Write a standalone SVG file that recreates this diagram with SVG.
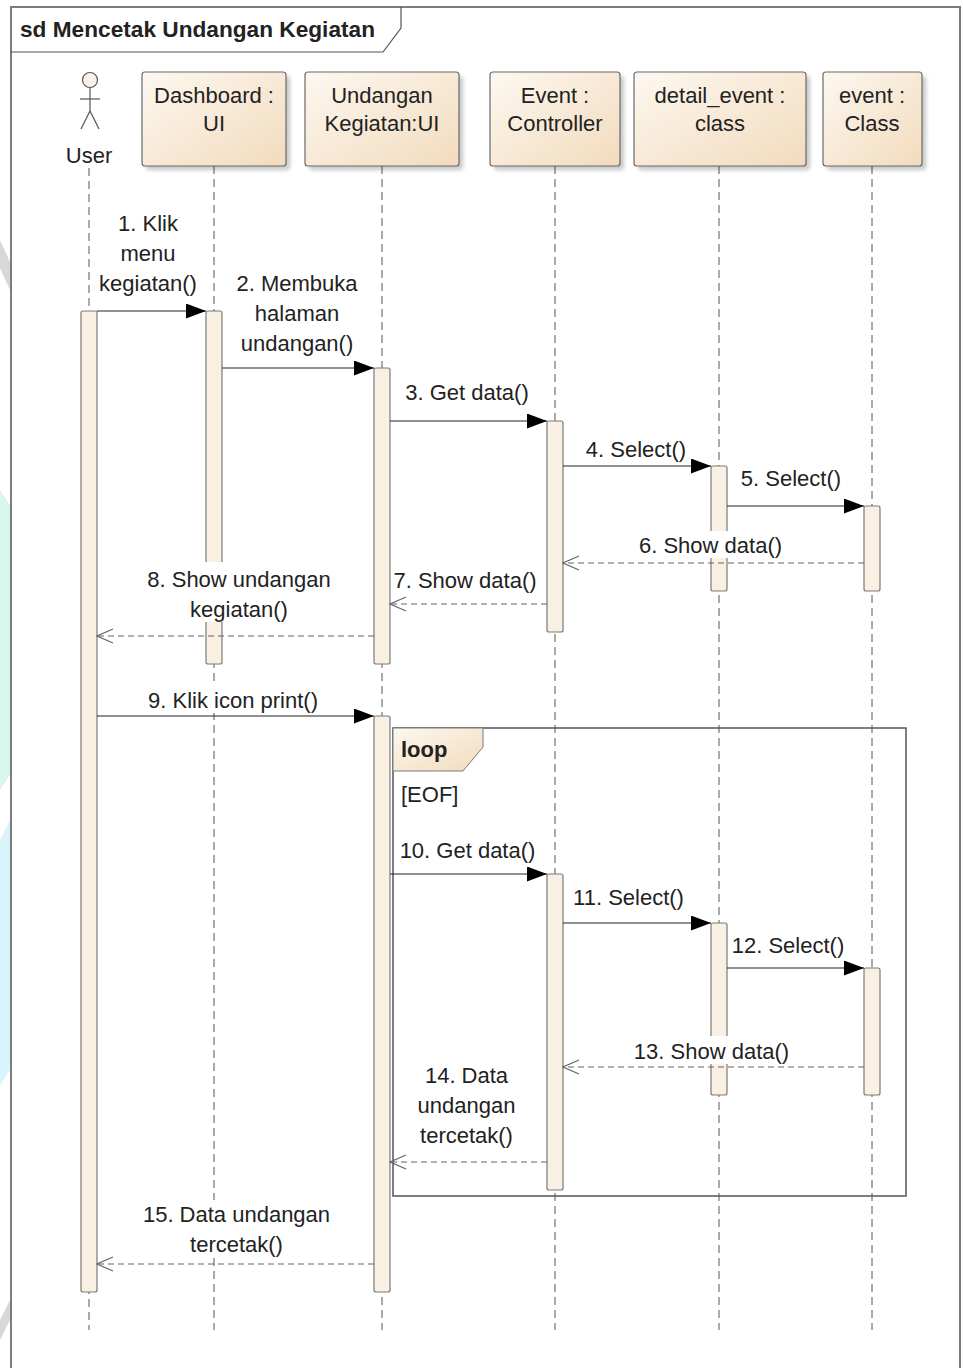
<svg xmlns="http://www.w3.org/2000/svg" width="963" height="1368" viewBox="0 0 963 1368">
<style>
.t{font-family:"Liberation Sans",Arial,sans-serif;font-size:22px;fill:#222}
.c{text-anchor:middle}
.b{font-weight:bold}
.life{stroke:#555;stroke-width:1;stroke-dasharray:8 5;fill:none}
.bar{fill:#f9efe2;stroke:#7a7a7a;stroke-width:1.2}
.head{fill:url(#g);stroke:#6a6a6a;stroke-width:1.2}
.shadow{fill:#000;opacity:0.22;filter:url(#blur)}
.msg{stroke:#222;stroke-width:1.2;fill:none;marker-end:url(#filled)}
.ret{stroke:#666;stroke-width:1.2;stroke-dasharray:6 4;fill:none;marker-end:url(#open)}
.bg{fill:#fff}
</style>
<defs>
<linearGradient id="g" x1="0" y1="0" x2="1" y2="1">
<stop offset="0" stop-color="#fdf8f0"/>
<stop offset="1" stop-color="#f2dbbd"/>
</linearGradient>
<filter id="blur" x="-10%" y="-10%" width="120%" height="120%"><feGaussianBlur stdDeviation="2"/></filter>
<marker id="filled" markerUnits="userSpaceOnUse" markerWidth="20" markerHeight="15" refX="20" refY="7.5" orient="auto">
<path d="M0,0 L20,7.5 L0,15 Z" fill="#000"/>
</marker>
<marker id="open" markerUnits="userSpaceOnUse" markerWidth="18" markerHeight="16" refX="17" refY="8" orient="auto">
<path d="M1,1 L17,8 L1,15" fill="none" stroke="#666" stroke-width="1.2" stroke-dasharray="none"/>
</marker>
</defs>
<rect width="963" height="1368" fill="#fff"/>
<!-- watermark edges -->
<g id="watermark" opacity="0.9">
<path d="M0,240 L10,262 L10,290 L0,268 Z" fill="#d4d4d4"/>
<path d="M0,490 L10,505 L10,775 L0,790 Z" fill="#d6f6ea"/>
<path d="M0,840 L10,820 L10,1070 L0,1085 Z" fill="#d5f3fb"/>
<path d="M0,1320 L10,1300 L10,1320 L0,1340 Z" fill="#d4d4d4"/>
</g>
<!-- frame -->
<g id="frame">
<path d="M11,1370 L11,7 L960,7 L960,1370" fill="none" stroke="#7c7c7c" stroke-width="2"/>
<path d="M11,52 L383,52 L401,28 L401,7" fill="none" stroke="#555" stroke-width="1.2"/>
<text class="t b" x="20" y="37" textLength="355" lengthAdjust="spacingAndGlyphs">sd Mencetak Undangan Kegiatan</text>
</g>
<!-- actor User -->
<g id="user">
<line class="life" x1="89" y1="168" x2="89" y2="1330"/>
<circle cx="90" cy="80" r="7.5" fill="#fbf3e8" stroke="#555" stroke-width="1.2"/>
<line x1="90" y1="88" x2="90" y2="111" stroke="#555" stroke-width="1.2"/>
<line x1="80" y1="99" x2="100" y2="99" stroke="#555" stroke-width="1.2"/>
<line x1="90" y1="111" x2="81" y2="129" stroke="#555" stroke-width="1.2"/>
<line x1="90" y1="111" x2="99" y2="129" stroke="#555" stroke-width="1.2"/>
<text class="t c" x="89" y="163">User</text>
<rect class="bar" x="81" y="311" width="16" height="981" rx="2"/>
</g>
<!-- Dashboard -->
<g id="dashboard">
<line class="life" x1="214" y1="166" x2="214" y2="1330"/>
<rect class="shadow" x="146" y="76" width="144" height="94" rx="3"/>
<rect class="head" x="142" y="72" width="144" height="94" rx="3"/>
<text class="t c" x="214" y="103">Dashboard :</text>
<text class="t c" x="214" y="131">UI</text>
<rect class="bar" x="206" y="311" width="16" height="353" rx="2"/>
</g>
<!-- Undangan Kegiatan -->
<g id="undangan">
<line class="life" x1="382" y1="166" x2="382" y2="1330"/>
<rect class="shadow" x="309" y="76" width="154" height="94" rx="3"/>
<rect class="head" x="305" y="72" width="154" height="94" rx="3"/>
<text class="t c" x="382" y="103">Undangan</text>
<text class="t c" x="382" y="131">Kegiatan:UI</text>
<rect class="bar" x="374" y="368" width="16" height="296" rx="2"/>
<rect class="bar" x="374" y="716" width="16" height="576" rx="2"/>
</g>
<!-- Event Controller -->
<g id="event-controller">
<line class="life" x1="555" y1="166" x2="555" y2="1330"/>
<rect class="shadow" x="494" y="76" width="130" height="94" rx="3"/>
<rect class="head" x="490" y="72" width="130" height="94" rx="3"/>
<text class="t c" x="555" y="103">Event :</text>
<text class="t c" x="555" y="131">Controller</text>
<rect class="bar" x="547" y="421" width="16" height="211" rx="2"/>
<rect class="bar" x="547" y="874" width="16" height="316" rx="2"/>
</g>
<!-- detail_event class -->
<g id="detail-event">
<line class="life" x1="719" y1="166" x2="719" y2="1330"/>
<rect class="shadow" x="638" y="76" width="172" height="94" rx="3"/>
<rect class="head" x="634" y="72" width="172" height="94" rx="3"/>
<text class="t c" x="720" y="103">detail_event :</text>
<text class="t c" x="720" y="131">class</text>
<rect class="bar" x="711" y="466" width="16" height="125" rx="2"/>
<rect class="bar" x="711" y="923" width="16" height="172" rx="2"/>
</g>
<!-- event Class -->
<g id="event-class">
<line class="life" x1="872" y1="166" x2="872" y2="1330"/>
<rect class="shadow" x="827" y="76" width="99" height="94" rx="3"/>
<rect class="head" x="823" y="72" width="99" height="94" rx="3"/>
<text class="t c" x="872" y="103">event :</text>
<text class="t c" x="872" y="131">Class</text>
<rect class="bar" x="864" y="506" width="16" height="85" rx="2"/>
<rect class="bar" x="864" y="968" width="16" height="127" rx="2"/>
</g>
<!-- loop fragment -->
<g id="loop">
<rect x="393" y="728" width="513" height="468" fill="none" stroke="#555" stroke-width="1.5"/>
<path d="M393,728 L483,728 L483,747 L463,771 L393,771 Z" fill="url(#g)" stroke="#7a7a7a" stroke-width="1"/>
<text class="t b" x="401" y="757">loop</text>
<text class="t" x="401" y="802">[EOF]</text>
</g>
<!-- connectors -->
<g id="connectors">
<rect class="bg" x="98" y="209" width="101" height="87"/>
<text class="t c" x="148" y="231">1. Klik</text>
<text class="t c" x="148" y="261">menu</text>
<text class="t c" x="148" y="291">kegiatan()</text>
<line class="msg" x1="97" y1="311" x2="206" y2="311"/>

<rect class="bg" x="233" y="269" width="128" height="87"/>
<text class="t c" x="297" y="291">2. Membuka</text>
<text class="t c" x="297" y="321">halaman</text>
<text class="t c" x="297" y="351">undangan()</text>
<line class="msg" x1="222" y1="368" x2="374" y2="368"/>

<rect class="bg" x="402" y="378" width="130" height="27"/>
<text class="t c" x="467" y="400">3. Get data()</text>
<line class="msg" x1="390" y1="421" x2="547" y2="421"/>

<rect class="bg" x="583" y="435" width="106" height="27"/>
<text class="t c" x="636" y="457">4. Select()</text>
<line class="msg" x1="563" y1="466" x2="711" y2="466"/>

<rect class="bg" x="738" y="464" width="106" height="27"/>
<text class="t c" x="791" y="486">5. Select()</text>
<line class="msg" x1="727" y1="506" x2="864" y2="506"/>

<rect class="bg" x="636" y="531" width="149" height="27"/>
<text class="t c" x="710.5" y="553">6. Show data()</text>
<line class="ret" x1="864" y1="563" x2="563" y2="563"/>

<rect class="bg" x="391" y="566" width="149" height="27"/>
<text class="t c" x="465" y="588">7. Show data()</text>
<line class="ret" x1="547" y1="604" x2="390" y2="604"/>

<rect class="bg" x="143" y="562" width="193" height="60"/>
<text class="t c" x="239" y="587">8. Show undangan</text>
<text class="t c" x="239" y="617">kegiatan()</text>
<line class="ret" x1="374" y1="636" x2="97" y2="636"/>

<rect class="bg" x="144" y="686" width="178" height="27"/>
<text class="t c" x="233" y="708">9. Klik icon print()</text>
<line class="msg" x1="97" y1="716" x2="374" y2="716"/>

<rect class="bg" x="396" y="836" width="143" height="27"/>
<text class="t c" x="467.5" y="858">10. Get data()</text>
<line class="msg" x1="390" y1="874" x2="547" y2="874"/>

<rect class="bg" x="569" y="883" width="119" height="27"/>
<text class="t c" x="628.5" y="905">11. Select()</text>
<line class="msg" x1="563" y1="923" x2="711" y2="923"/>

<rect class="bg" x="729" y="931" width="118" height="27"/>
<text class="t c" x="788" y="953">12. Select()</text>
<line class="msg" x1="727" y1="968" x2="864" y2="968"/>

<rect class="bg" x="630" y="1036" width="163" height="28"/>
<text class="t c" x="711.5" y="1059">13. Show data()</text>
<line class="ret" x1="864" y1="1067" x2="563" y2="1067"/>

<rect class="bg" x="414" y="1061" width="105" height="87"/>
<text class="t c" x="466.5" y="1083">14. Data</text>
<text class="t c" x="466.5" y="1113">undangan</text>
<text class="t c" x="466.5" y="1143">tercetak()</text>
<line class="ret" x1="547" y1="1162" x2="390" y2="1162"/>

<rect class="bg" x="138" y="1200" width="197" height="57"/>
<text class="t c" x="236.5" y="1222">15. Data undangan</text>
<text class="t c" x="236.5" y="1252">tercetak()</text>
<line class="ret" x1="374" y1="1264" x2="97" y2="1264"/>
</g>
</svg>
